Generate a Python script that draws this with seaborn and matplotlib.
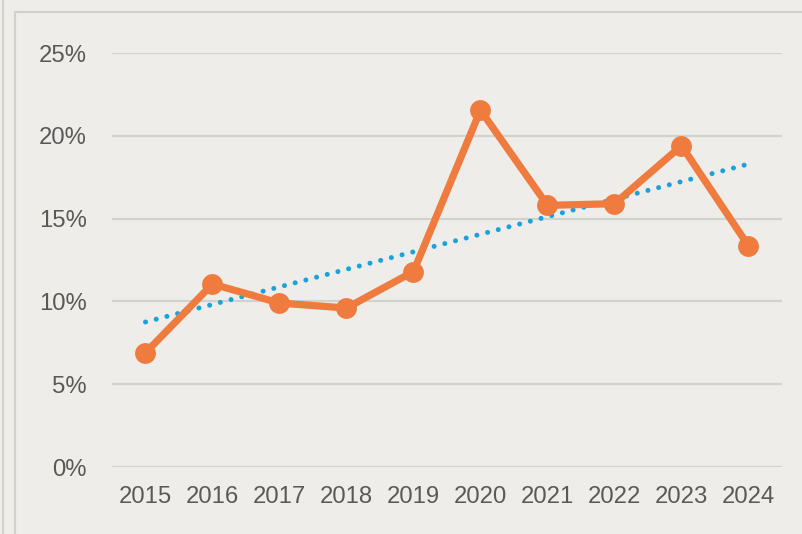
import matplotlib
matplotlib.use("Agg")
import matplotlib.pyplot as plt
from matplotlib.lines import Line2D
import seaborn as sns
import pandas as pd

years = [2015, 2016, 2017, 2018, 2019, 2020, 2021, 2022, 2023, 2024]
values = [6.9, 11.05, 9.9, 9.6, 11.8, 21.55, 15.8, 15.9, 19.4, 13.35]
y_ticks = [0, 5, 10, 15, 20, 25]
y_tick_labels = ["0%", "5%", "10%", "15%", "20%", "25%"]

BG = "#EEEDE9"
ORANGE = "#EF7B3E"
BLUE = "#1BA1DB"
GRID = "#D0D2D2"
TEXT = "#595959"

sns.set_theme(style="white")
plt.rcParams["font.family"] = ["Liberation Sans", "DejaVu Sans"]

df = pd.DataFrame({"year": years, "value": values})

fig = plt.figure(figsize=(8.03, 5.34), dpi=100)
fig.patch.set_facecolor(BG)
W, H = 803, 534
ax = fig.add_axes([112 / W, 1 - 467 / H, (782 - 112) / W, (467 - 53) / H])
ax.set_facecolor(BG)

# frame lines
fig.add_artist(Line2D([3.5 / W, 3.5 / W], [0, 1], transform=fig.transFigure, color=GRID, lw=1.5))
fig.add_artist(Line2D([15 / W, 15 / W], [0, 1 - 12 / H], transform=fig.transFigure, color=GRID, lw=1.5))
fig.add_artist(Line2D([15 / W, 1], [1 - 12 / H, 1 - 12 / H], transform=fig.transFigure, color=GRID, lw=1.5))

for t in y_ticks:
    ax.axhline(t, color=GRID, lw=1.6, zorder=0)

sns.regplot(data=df, x="year", y="value", scatter=False, ci=None, truncate=True, ax=ax,
            line_kws=dict(color=BLUE, lw=3.6, linestyle=(0, (0.01, 2.2)),
                          dash_capstyle="round", zorder=2))
sns.lineplot(data=df, x="year", y="value", ax=ax, color=ORANGE, lw=5.2, marker="o",
             markersize=15, markeredgewidth=0, zorder=3, clip_on=False)

ax.set_xlim(2014.5, 2024.5)
ax.set_ylim(0, 25)
ax.set_xticks(years)
ax.set_xticklabels([str(y) for y in years])
ax.set_yticks(y_ticks)
ax.set_yticklabels(y_tick_labels)
ax.tick_params(axis="both", length=0, labelsize=17.2, labelcolor=TEXT)
ax.tick_params(axis="y", pad=18)
ax.tick_params(axis="x", pad=14)
ax.set_xlabel("")
ax.set_ylabel("")
for s in ax.spines.values():
    s.set_visible(False)

fig.savefig("out.png", dpi=100, facecolor=BG)
